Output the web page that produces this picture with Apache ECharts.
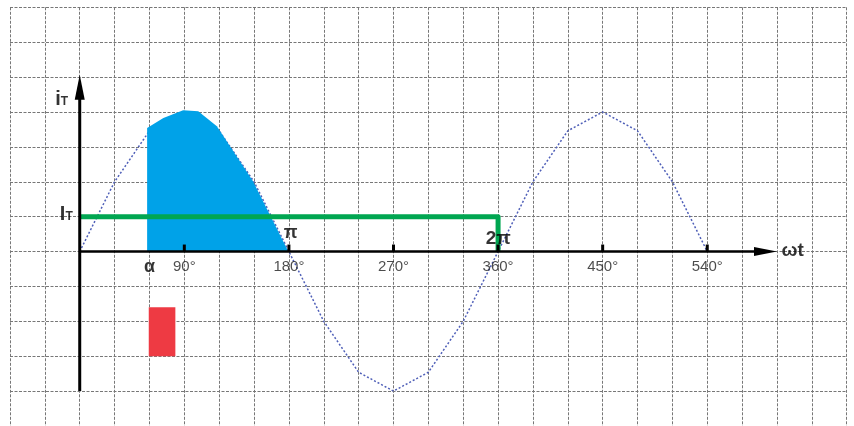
<!DOCTYPE html>
<html>
<head>
<meta charset="utf-8">
<script src="https://cdn.jsdelivr.net/npm/echarts/dist/echarts.min.js"></script>
<style>
  html, body { margin: 0; padding: 0; background: #ffffff; }
  #chart { width: 854px; height: 426px; }
</style>
</head>
<body>
<div id="chart"></div>
<script>
// Thyristor current i_T over ωt (degrees); vertical unit = one grid cell.
const sineDeg = [0, 30, 60, 90, 120, 150, 180, 210, 240, 270, 300, 330, 360, 390, 420, 450, 480, 510, 540];
const sineVal = [0, 2, 3.46, 4, 3.46, 2, 0, -2, -3.46, -4, -3.46, -2, 0, 2, 3.46, 4, 3.46, 2, 0];

// Conducting interval, from the firing angle α to π
const conductDeg = [58, 72, 89, 102, 118, 149, 179.5];
const conductVal = [3.54, 3.83, 4.05, 4.02, 3.59, 2.02, 0];

// Mean current level I_T held over one period
const meanDeg = [0, 360, 360];
const meanVal = [1, 1, 0];

// Gate pulse
const pulseDeg = [59.4, 82.3];
const pulseVal = [-1.6, -3.0];

// Axes drawn as arrows: [x0, y0, x1, y1]
const axisLines = [[0, 0, 600, 0], [0, -4, 0, 5.07]];

// Degree ticks along ωt
const tickDeg = [90, 180, 270, 360, 450, 540];
const tickLabels = ['90°', '180°', '270°', '360°', '450°', '540°'];

// Symbol annotations
const markTexts = ['α', 'π', '2π', 'ωt'];
const markDeg = [60, 181.5, 360.2, 603.8];
const markVal = [-0.43, 0.52, 0.38, 0.02];

// Current labels on the vertical axis
const currentTexts = ['{i|i}{t|T}', '{i|I}{t|T}'];
const currentDeg = [-10, -6];
const currentVal = [4.36, 1.07];

const chart = echarts.init(document.getElementById('chart'), null, { renderer: 'canvas' });

const FONT = 'Liberation Sans, Arial, sans-serif';
const markStyles = [
  { fontSize: 18, fontWeight: 'bold', align: 'center' },
  { fontSize: 18, fontWeight: 'bold', align: 'center' },
  { fontSize: 19, fontWeight: 'bold', align: 'center' },
  { fontSize: 19, fontWeight: 'bold', align: 'left' }
];

const gridLine = { show: true, lineStyle: { color: '#777777', width: 1, type: [3, 1.5] } };

const option = {
  animation: false,
  backgroundColor: '#ffffff',
  grid: { left: 10, top: 7.3, width: 836.7, height: 420, containLabel: false },
  xAxis: {
    type: 'value', min: -60, max: 660, interval: 30,
    axisLine: { show: false }, axisTick: { show: false }, axisLabel: { show: false },
    splitLine: gridLine
  },
  yAxis: {
    type: 'value', min: -5, max: 7, interval: 1,
    axisLine: { show: false }, axisTick: { show: false }, axisLabel: { show: false },
    splitLine: gridLine
  },
  series: [
    {
      name: 'sine', type: 'line', z: 2, symbol: 'none', silent: true,
      data: sineDeg.map((d, i) => [d, sineVal[i]]),
      lineStyle: { color: '#4f5fb8', width: 1.5, type: [2, 2] }
    },
    {
      name: 'conduction', type: 'line', z: 3, symbol: 'none', silent: true,
      data: conductDeg.map((d, i) => [d, conductVal[i]]),
      lineStyle: { width: 0 },
      areaStyle: { color: '#00a2e8', opacity: 1 }
    },
    {
      name: 'mean', type: 'line', z: 4, symbol: 'none', silent: true,
      data: meanDeg.map((d, i) => [d, meanVal[i]]),
      lineStyle: { color: '#00a651', width: 5, join: 'round', cap: 'butt' }
    },
    {
      name: 'pulse', type: 'custom', z: 4, silent: true,
      data: [[pulseDeg[0], pulseVal[0], pulseDeg[1], pulseVal[1]]],
      renderItem(params, api) {
        const p1 = api.coord([api.value(0), api.value(1)]);
        const p2 = api.coord([api.value(2), api.value(3)]);
        return {
          type: 'rect',
          shape: { x: p1[0], y: p1[1], width: p2[0] - p1[0], height: p2[1] - p1[1] },
          style: { fill: '#ee3a43' }
        };
      }
    },
    {
      name: 'axes', type: 'custom', z: 5, silent: true,
      data: axisLines,
      renderItem(params, api) {
        const a = api.coord([api.value(0), api.value(1)]);
        const b = api.coord([api.value(2), api.value(3)]);
        const horiz = params.dataIndex === 0;
        const headLen = horiz ? 23 : 25;
        const headHalf = horiz ? 4.5 : 5;
        const dx = b[0] - a[0], dy = b[1] - a[1];
        const len = Math.hypot(dx, dy);
        const ux = dx / len, uy = dy / len;
        const base = [b[0] - ux * headLen, b[1] - uy * headLen];
        const nx = -uy, ny = ux;
        return {
          type: 'group',
          children: [
            {
              type: 'line',
              shape: { x1: a[0], y1: a[1], x2: base[0] + ux * 3, y2: base[1] + uy * 3 },
              style: { stroke: '#000000', lineWidth: horiz ? 2.5 : 3 }
            },
            {
              type: 'polygon',
              shape: { points: [b, [base[0] + nx * headHalf, base[1] + ny * headHalf], [base[0] - nx * headHalf, base[1] - ny * headHalf]] },
              style: { fill: '#000000' }
            }
          ]
        };
      }
    },
    {
      name: 'ticks', type: 'custom', z: 5, silent: true,
      data: tickDeg.map(d => [d, 0]),
      renderItem(params, api) {
        const p = api.coord([api.value(0), api.value(1)]);
        return { type: 'rect', shape: { x: p[0] - 1.5, y: p[1] - 7, width: 3, height: 7 }, style: { fill: '#000000' } };
      }
    },
    {
      name: 'tickLabels', type: 'scatter', z: 6, symbolSize: 0, silent: true,
      data: tickDeg.map(d => [d, 0]),
      label: {
        show: true, position: 'inside', offset: [0, 15],
        formatter: p => tickLabels[p.dataIndex],
        color: '#1e1e1e', fontSize: 15, fontFamily: FONT,
        align: 'center', verticalAlign: 'middle'
      }
    },
    {
      name: 'marks', type: 'scatter', z: 6, symbolSize: 0, silent: true,
      data: markTexts.map((t, i) => ({
        value: [markDeg[i], markVal[i]],
        label: Object.assign({
          show: true, position: 'inside', formatter: t, color: '#000000',
          fontFamily: FONT, verticalAlign: 'middle'
        }, markStyles[i])
      }))
    },
    {
      name: 'currents', type: 'scatter', z: 6, symbolSize: 0, silent: true,
      data: currentTexts.map((t, i) => [currentDeg[i], currentVal[i]]),
      label: {
        show: true, position: 'inside', align: 'right', verticalAlign: 'middle',
        formatter: p => currentTexts[p.dataIndex],
        color: '#000000',
        rich: {
          i: { fontSize: 20, fontWeight: 'bold', fontFamily: FONT, color: '#000000', verticalAlign: 'bottom' },
          t: { fontSize: 12, fontWeight: 'bold', fontFamily: FONT, color: '#000000', verticalAlign: 'bottom', padding: [0, 0, 2, 0] }
        }
      }
    }
  ]
};

chart.setOption(option);
</script>
</body>
</html>
